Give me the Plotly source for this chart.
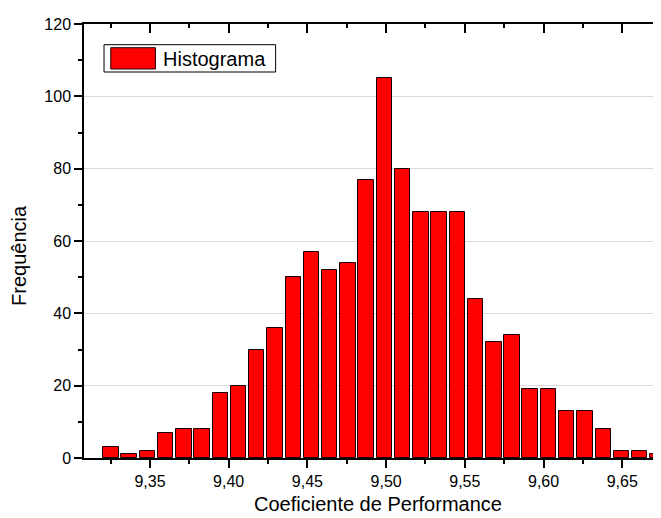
import plotly.graph_objects as go

# Bin centers (Coeficiente de Performance) and counts (Frequência)
bin_centers = [9.3252, 9.3368, 9.3484, 9.3599, 9.3715, 9.3831, 9.3947, 9.4063,
               9.4178, 9.4294, 9.4410, 9.4526, 9.4642, 9.4757, 9.4873, 9.4989,
               9.5105, 9.5221, 9.5336, 9.5452, 9.5568, 9.5684, 9.5800, 9.5915,
               9.6031, 9.6147, 9.6263, 9.6379, 9.6494, 9.6610, 9.6726]
counts = [3, 1, 2, 7, 8, 8, 18, 20, 30, 36, 50, 57, 52, 54, 77, 105,
          80, 68, 68, 68, 44, 32, 34, 19, 19, 13, 13, 8, 2, 2, 1]
x_tickvals = [9.35, 9.40, 9.45, 9.50, 9.55, 9.60, 9.65]
y_tickvals = [0, 20, 40, 60, 80, 100, 120]
legend_label = "Histograma"

X_RANGE = [9.3081, 9.6746]
Y_RANGE = [0, 120]
FONT = "Arial, Liberation Sans, sans-serif"

fig = go.Figure()
fig.add_trace(go.Bar(
    x=bin_centers, y=counts, width=0.0098,
    marker=dict(color="#ff0000", line=dict(color="#1a0000", width=1)),
    name=legend_label, showlegend=False,
))
# empty trace to carry the mirrored (top/right) axes
fig.add_trace(go.Scatter(x=[], y=[], xaxis="x2", yaxis="y2", showlegend=False))

fig.update_layout(
    width=653, height=510,
    margin=dict(l=76, r=0, t=16, b=60),
    plot_bgcolor="white", paper_bgcolor="white",
    separators=", ",
    font=dict(family=FONT, color="black", size=16),
    bargap=0,
    xaxis=dict(
        range=X_RANGE, tickvals=x_tickvals, tickformat=".2f",
        ticks="outside", ticklen=8, tickwidth=1.5, tickcolor="black",
        showline=True, linecolor="black", linewidth=1.5,
        showgrid=False, zeroline=False,
        minor=dict(ticks="outside", ticklen=4, tickwidth=1.5, tickcolor="black",
                   dtick=0.025, tick0=9.325, showgrid=False),
        tickfont=dict(size=16),
    ),
    yaxis=dict(
        range=Y_RANGE, tickvals=y_tickvals,
        ticks="outside", ticklen=8, tickwidth=1.5, tickcolor="black",
        showline=True, linecolor="black", linewidth=1.5,
        showgrid=True, gridcolor="#d9d9d9", gridwidth=1,
        zeroline=False,
        minor=dict(ticks="outside", ticklen=4, tickwidth=1.5, tickcolor="black",
                   dtick=10, showgrid=False),
        tickfont=dict(size=16),
    ),
    xaxis2=dict(
        range=X_RANGE, overlaying="x", side="top", anchor="y",
        tickvals=x_tickvals, showticklabels=False,
        ticks="inside", ticklen=9, tickwidth=1.5, tickcolor="black",
        showline=True, linecolor="black", linewidth=1.5,
        showgrid=False, zeroline=False,
        minor=dict(ticks="inside", ticklen=4, tickwidth=1.5, tickcolor="black",
                   dtick=0.025, tick0=9.325, showgrid=False),
    ),
    yaxis2=dict(
        range=Y_RANGE, overlaying="y", side="right", anchor="x",
        tickvals=y_tickvals, showticklabels=False,
        ticks="inside", ticklen=3, tickwidth=1.5, tickcolor="black",
        showline=False, showgrid=False, zeroline=False,
    ),
    shapes=[
        dict(type="rect", xref="paper", yref="paper",
             x0=0.0347, x1=0.3321, y0=0.8894, y1=0.9523,
             line=dict(color="black", width=1), fillcolor="white"),
        dict(type="rect", xref="paper", yref="paper",
             x0=0.0464, x1=0.1238, y0=0.8963, y1=0.9454,
             line=dict(color="#1a0000", width=1), fillcolor="#ff0000"),
    ],
    annotations=[
        dict(text=legend_label, xref="paper", yref="paper", x=0.1337, y=0.9205,
             xanchor="left", yanchor="middle", showarrow=False,
             font=dict(size=20, family=FONT)),
        dict(text="Coeficiente de Performance", xref="paper", yref="paper",
             x=0.5087, y=-0.1355, xanchor="center", yanchor="bottom",
             showarrow=False, font=dict(size=20, family=FONT)),
        dict(text="Frequência", xref="paper", yref="paper",
             x=-0.1128, y=0.4677, xanchor="center", yanchor="middle",
             textangle=-90, showarrow=False, font=dict(size=20, family=FONT)),
    ],
)

fig.write_html("out.html")
